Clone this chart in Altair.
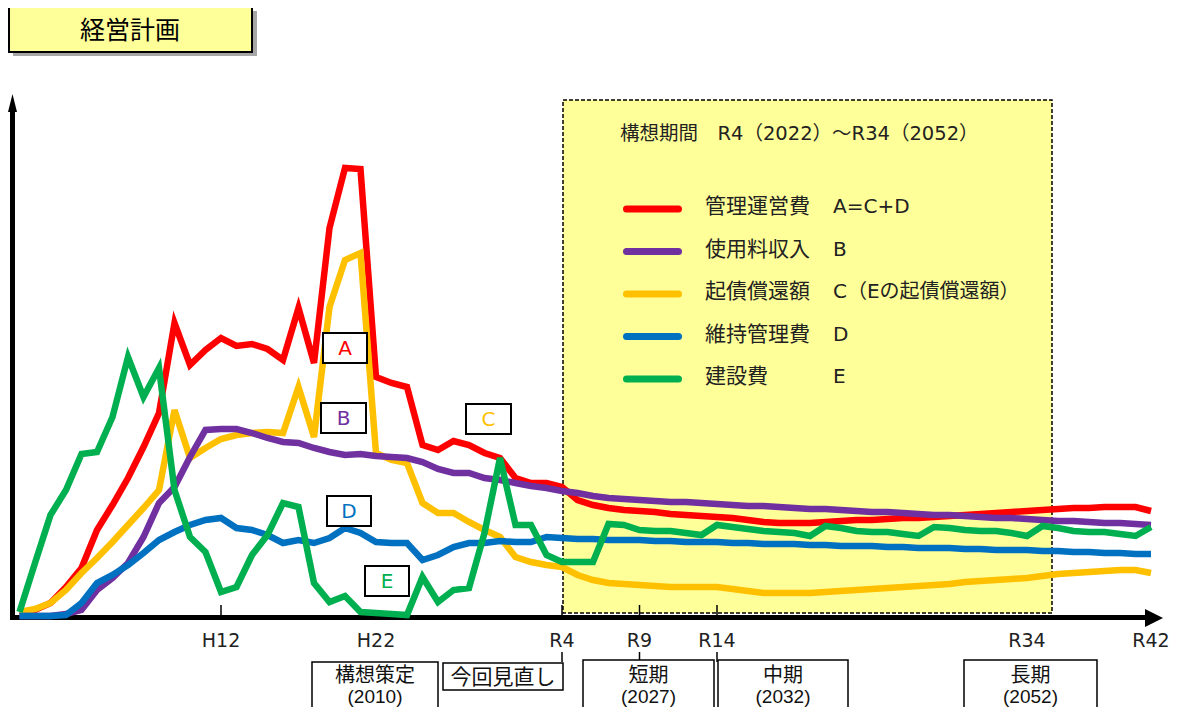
import altair as alt
import pandas as pd

# ---------------- data (arbitrary units) ----------------
years = list(range(1987, 2061))

kanri_unei = [3, 6, 13, 29, 48, 86, 111, 138, 169, 203,
              293, 251, 266, 278, 270, 272, 267, 256, 308, 253,
              388, 448, 447, 239, 233, 229, 171, 166, 175, 171,
              163, 158, 138, 133, 133, 129, 116, 111, 108, 106,
              105, 104, 102, 101, 100, 99, 98, 96, 94, 93,
              93, 93, 94, 95, 96, 96, 97, 98, 98, 99,
              100, 101, 102, 103, 104, 105, 106, 107, 108, 108,
              109, 109, 109, 105]

shiyoryo = [0, 0, 0, 2, 6, 26, 38, 53, 79, 113,
            129, 159, 186, 187, 187, 183, 178, 174, 173, 168,
            164, 161, 162, 160, 159, 158, 154, 147, 143, 143,
            138, 136, 133, 130, 128, 125, 123, 120, 118, 117,
            116, 115, 114, 114, 113, 112, 111, 110, 110, 109,
            108, 107, 107, 106, 105, 104, 104, 103, 102, 101,
            101, 100, 99, 98, 98, 97, 96, 95, 95, 94,
            93, 93, 92, 91]

kisai_shokan = [4, 7, 13, 26, 43, 58, 74, 91, 108, 126,
                206, 158, 168, 177, 181, 183, 184, 183, 229, 179,
                309, 356, 363, 163, 156, 153, 113, 103, 103, 94,
                86, 79, 59, 54, 51, 49, 41, 36, 33, 32,
                31, 30, 29, 29, 29, 29, 27, 25, 23, 23,
                23, 23, 24, 25, 26, 27, 28, 29, 30, 31,
                32, 34, 35, 36, 37, 38, 40, 42, 43, 44,
                45, 46, 46, 43]

iji_kanri = [0, 0, 0, 1, 13, 33, 41, 51, 63, 76,
             84, 91, 96, 98, 88, 86, 81, 73, 76, 73,
             78, 88, 83, 74, 73, 73, 56, 61, 69, 73,
             73, 75, 74, 74, 79, 78, 77, 77, 76, 76,
             76, 75, 75, 74, 74, 74, 73, 73, 72, 72,
             72, 71, 71, 70, 70, 70, 69, 69, 68, 68,
             68, 67, 67, 66, 66, 66, 65, 65, 64, 64,
             63, 63, 62, 62]

kensetsu = [4, 53, 101, 126, 162, 164, 199, 259, 219, 248,
            126, 79, 64, 24, 29, 61, 81, 113, 109, 33,
            14, 20, 4, 3, 2, 1, 39, 14, 26, 28,
            83, 158, 91, 91, 61, 54, 54, 54, 92, 91,
            86, 85, 85, 83, 81, 91, 89, 87, 85, 84,
            83, 80, 90, 88, 85, 84, 84, 82, 80, 89,
            88, 86, 85, 85, 83, 80, 90, 88, 85, 84,
            84, 82, 80, 89]

series_names = ["管理運営費", "使用料収入", "起債償還額", "維持管理費", "建設費"]
series_letters = ["A=C+D", "B", "C（Eの起債償還額）", "D", "E"]
series_colors = ["#FF0000", "#7030A0", "#FFC000", "#0070C0", "#00B050"]
series_values = [kanri_unei, shiyoryo, kisai_shokan, iji_kanri, kensetsu]
box_letters = ["A", "B", "C", "D", "E"]

tick_years = [2000, 2010, 2022, 2027, 2032, 2052, 2060]
tick_labels = ["H12", "H22", "R4", "R9", "R14", "R34", "R42"]
mark_years = [2000, 2022, 2027, 2032]

chart_title = "経営計画"
period_text = "構想期間　R4（2022）～R34（2052）"
review_text = "今回見直し"
phase_titles = ["構想策定", "短期", "中期", "長期"]
phase_years = ["(2010)", "(2027)", "(2032)", "(2052)"]

# ---------------- layout ----------------
W, H = 1168, 699
JP = "Noto Sans CJK JP"
MIX = "DejaVu Sans, Noto Sans CJK JP"
LAT = "DejaVu Sans"
X0 = 2000 - 213 / 15.5
X1 = 2000 + 955 / 15.5
xs = alt.Scale(domain=[X0, X1], nice=False, zero=False)
ys = alt.Scale(domain=[-91, 608], nice=False, zero=False)
one = pd.DataFrame({"k": [0]})


def P(v):
    return v - 8


def rect(x1, y1, x2, y2, **kw):
    return alt.Chart(one).mark_rect(**kw).encode(
        x=alt.value(P(x1)), x2=alt.value(P(x2)), y=alt.value(P(y1)), y2=alt.value(P(y2)))


def rule(x1, y1, x2, y2, **kw):
    return alt.Chart(one).mark_rule(**kw).encode(
        x=alt.value(P(x1)), x2=alt.value(P(x2)), y=alt.value(P(y1)), y2=alt.value(P(y2)))


def text(s, x, y, size, color="black", font=JP, align="center", **kw):
    return alt.Chart(pd.DataFrame({"t": [s]})).mark_text(
        font=font, fontSize=size, color=color, align=align, baseline="middle", **kw
    ).encode(text="t:N", x=alt.value(P(x)), y=alt.value(P(y)))


layers = []

# title box
layers.append(rect(13, 11, 257, 56, fill="#A6A6A6"))
layers.append(rect(9, 7, 252, 52, fill="#FFFF99", stroke="black", strokeWidth=2))
layers.append(text(chart_title, 130, 31, 25))

# plan period box
layers.append(rect(563, 100, 1052, 613, fill="#FFFF99", stroke="black",
                   strokeWidth=1.5, strokeDash=[4, 2]))
layers.append(text(period_text, 620, 134, 19.5, color="#222", align="left", font=MIX))

# tick marks on the x axis
layers.append(alt.Chart(pd.DataFrame({"year": mark_years})).mark_rule(
    color="black", strokeWidth=1.5).encode(
    x=alt.X("year:Q", scale=xs, axis=None), y=alt.value(P(605)), y2=alt.value(P(617))))

# axes with arrows
layers.append(rule(12.5, 617, 12.5, 108, color="black", strokeWidth=5))
layers.append(rule(10, 617.5, 1148, 617.5, color="black", strokeWidth=5))
layers.append(alt.Chart(one).mark_point(
    shape="M0,-1L0.5,1L-0.5,1Z", size=324, filled=True, color="black", opacity=1).encode(
    x=alt.value(P(12.5)), y=alt.value(P(103))))
layers.append(alt.Chart(one).mark_point(
    shape="M1,0L-1,-1L-1,1Z", size=324, filled=True, color="black", opacity=1).encode(
    x=alt.value(P(1154)), y=alt.value(P(618))))

# series lines (drawing order as in picture)
for idx in [0, 2, 1, 3, 4]:
    d = pd.DataFrame({"year": years, "value": series_values[idx],
                      "series": series_names[idx]})
    layers.append(alt.Chart(d).mark_line(
        color=series_colors[idx], strokeWidth=6.5).encode(
        x=alt.X("year:Q", scale=xs, axis=None),
        y=alt.Y("value:Q", scale=ys, axis=None)))

# letter boxes on the lines
box_pos = [(323, 333, 367, 363), (321, 403, 366, 433), (466, 404, 511, 434),
           (327, 496, 371, 526), (365, 566, 409, 596)]
for i, (x1, y1, x2, y2) in enumerate(box_pos):
    layers.append(rect(x1, y1, x2, y2, fill="white", stroke="black", strokeWidth=2))
    layers.append(text(box_letters[i], (x1 + x2) / 2, (y1 + y2) / 2 + 1, 20,
                       color=series_colors[i], font=LAT))

# legend
for i in range(5):
    yy = 209 + 42.5 * i
    layers.append(rule(626.5, yy, 678.5, yy, color=series_colors[i],
                       strokeWidth=7, strokeCap="round"))
    layers.append(text(series_names[i], 705, yy - 2, 21, color="#222", align="left"))
    layers.append(text(series_letters[i], 833, yy - 2, 20, color="#222", align="left",
                       font=MIX))

# x tick labels
layers.append(alt.Chart(pd.DataFrame({"year": tick_years, "lab": tick_labels})).mark_text(
    font=LAT, fontSize=19, color="#222", baseline="middle").encode(
    x=alt.X("year:Q", scale=xs, axis=None), y=alt.value(P(641)), text="lab:N"))

# connectors from ticks to phase boxes
layers.append(alt.Chart(pd.DataFrame({"year": [2022, 2027, 2032]})).mark_rule(
    color="black", strokeWidth=1.5).encode(
    x=alt.X("year:Q", scale=xs, axis=None), y=alt.value(P(652)), y2=alt.value(P(662))))

# phase boxes
phase_boxes = [(312, 662, 438, 730), (583, 660, 714, 730), (718, 660, 848, 730),
               (964, 660, 1097, 713)]
for i, (x1, y1, x2, y2) in enumerate(phase_boxes):
    layers.append(rect(x1, y1, x2, y2, fill="white", stroke="black", strokeWidth=1.5))
    cx = (x1 + x2) / 2
    layers.append(text(phase_titles[i], cx, 676, 20, color="#111"))
    layers.append(text(phase_years[i], cx, 697, 19, color="#111",
                       font="Liberation Sans"))

layers.append(rect(443, 663, 563, 690, fill="white", stroke="black", strokeWidth=1.5))
layers.append(text(review_text, 503, 678, 21, color="#111"))

chart = alt.layer(*layers).properties(
    width=W, height=H,
    autosize=alt.AutoSizeParams(type="none"),
    padding=0,
).configure_view(stroke=None)

chart.save("out.html", embed_options={"renderer": "svg", "actions": False})
